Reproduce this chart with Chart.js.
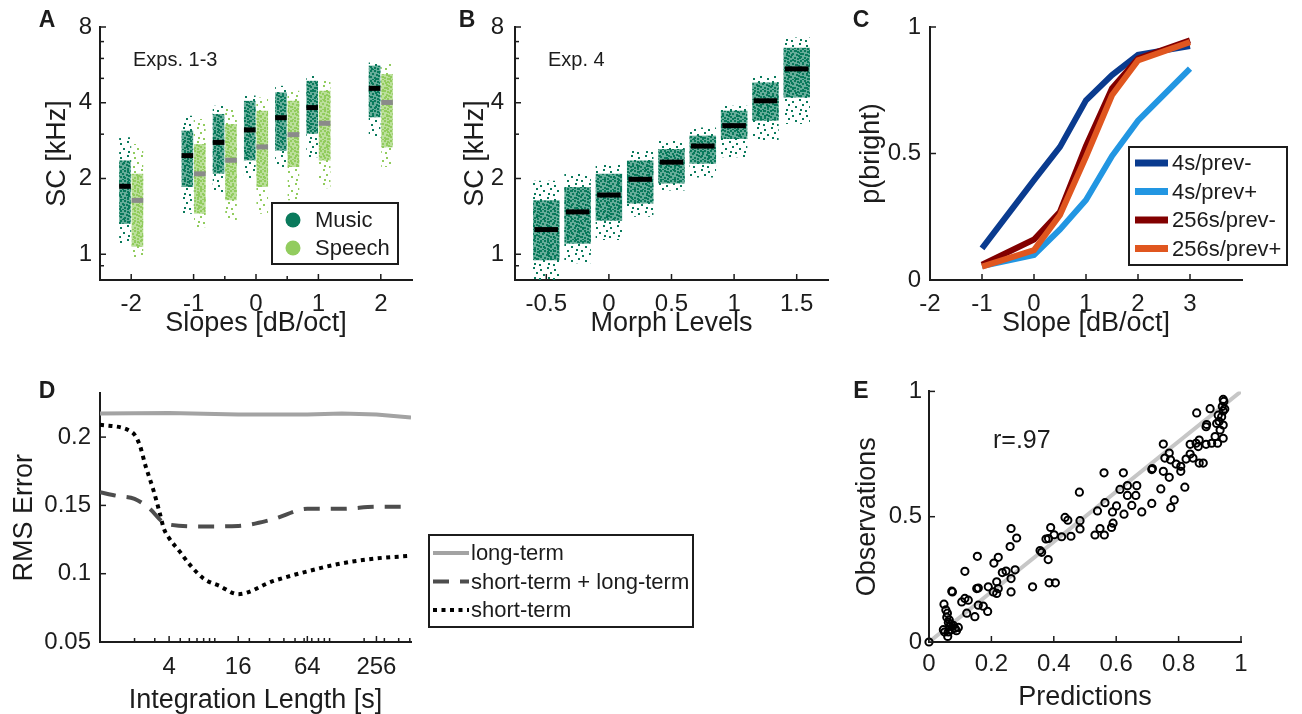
<!DOCTYPE html>
<html><head><meta charset="utf-8"><title>Spectral centroid figure</title>
<script src="https://cdn.jsdelivr.net/npm/chart.js@4.4.1/dist/chart.umd.min.js"></script>
<style>
html,body{margin:0;padding:0;background:#fff;overflow:hidden;}
body{width:1302px;height:714px;position:relative;}
canvas{position:absolute;display:block;}
</style></head><body>
<canvas id="cA" width="420" height="344" style="left:0px;top:0px"></canvas>
<canvas id="cB" width="420" height="344" style="left:420px;top:0px"></canvas>
<canvas id="cC" width="462" height="344" style="left:840px;top:0px"></canvas>
<canvas id="cD" width="720" height="351" style="left:0px;top:370px"></canvas>
<canvas id="cE" width="462" height="348" style="left:840px;top:370px"></canvas>
<script>
// ---------------- DATA ----------------
// Panel A : spectral centroid (kHz) per spectral slope, music vs speech
const seriesA = ['Music', 'Speech'];
const slopesA = [-2, -1, -0.5, 0, 0.5, 1, 2];
const slopeTicksA = [-2, -1, -0.5, 0, 0.5, 1, 2];
const slopeLabelsA = [-2, -1, 0, 1, 2];
const musicMedA = [1.82, 2.41, 2.72, 3.05, 3.41, 3.74, 4.46];
const speechMedA = [1.60, 2.04, 2.31, 2.61, 2.92, 3.24, 3.92];
const musicCoreA = [[1.32, 2.36], [1.85, 3.10], [2.09, 3.61], [2.36, 4.07], [2.58, 4.40], [3.01, 4.89], [3.50, 5.62]];
const musicTailA = [[1.10, 2.92], [1.45, 3.55], [1.75, 3.89], [2.00, 4.27], [2.20, 4.67], [2.43, 5.12], [2.90, 5.78]];
const speechCoreA = [[1.07, 2.09], [1.45, 2.74], [1.64, 3.29], [1.85, 3.72], [2.22, 4.07], [2.36, 4.46], [2.66, 5.20]];
const speechTailA = [[0.976, 2.74], [1.28, 3.45], [1.36, 3.78], [1.45, 4.20], [1.64, 4.46], [1.83, 4.89], [2.22, 5.70]];
const scTicks = [0.9, 1, 2, 3, 4, 5, 6, 7, 8];
const scLabels = [1, 2, 4, 8];

// Panel B : spectral centroid per morph level
const morphLevels = [-0.5, -0.25, 0, 0.25, 0.5, 0.75, 1, 1.25, 1.5];
const morphTicks = [-0.5, 0, 0.5, 1, 1.5];
const medB = [1.225, 1.44, 1.68, 1.94, 2.27, 2.63, 3.17, 3.98, 5.33];
const coreB = [[0.947, 1.64], [1.10, 1.85], [1.36, 2.09], [1.59, 2.36], [1.91, 2.62], [2.29, 2.96], [2.87, 3.72], [3.39, 4.81], [4.20, 6.62]];
const tailB = [[0.79, 1.96], [0.92, 2.09], [1.14, 2.28], [1.41, 2.58], [1.79, 2.83], [2.02, 3.19], [2.43, 3.89], [2.83, 5.12], [3.29, 7.26]];

// Panel C : p(bright) vs slope
const seriesC = ['4s/prev-', '4s/prev+', '256s/prev-', '256s/prev+'];
const slopesC = [-1, 0, 0.5, 1, 1.5, 2, 3];
const p4Minus = [0.125, 0.395, 0.526, 0.71, 0.81, 0.89, 0.925];
const p4Plus = [0.055, 0.099, 0.20, 0.316, 0.49, 0.63, 0.835];
const p256Minus = [0.06, 0.16, 0.27, 0.53, 0.757, 0.875, 0.947];
const p256Plus = [0.053, 0.118, 0.257, 0.487, 0.73, 0.868, 0.94];
const slopeTicksC = [-2, -1, 0, 1, 2, 3];
const pTicks = [0, 0.5, 1];

// Panel D : RMS error vs integration length
const seriesD = ['long-term', 'short-term + long-term', 'short-term'];
const lenLong = [1, 4, 16, 64, 128, 256, 512];
const rmsLong = [0.2173, 0.2177, 0.2166, 0.2166, 0.2172, 0.2166, 0.2144];
const lenBoth = [1, 1.4, 2, 2.7, 3.5, 4, 8, 16, 32, 64, 128, 256, 512];
const rmsBoth = [0.1596, 0.157, 0.1548, 0.1477, 0.138, 0.136, 0.1346, 0.135, 0.1398, 0.1475, 0.1475, 0.149, 0.149];
const lenShort = [1, 1.9, 2.2, 2.5, 2.9, 3.3, 3.6, 4, 4.9, 6, 8, 11, 16, 32, 64, 128, 256, 512];
const rmsShort = [0.209, 0.2036, 0.195, 0.1786, 0.162, 0.145, 0.133, 0.126, 0.1167, 0.107, 0.0964, 0.091, 0.085, 0.0945, 0.1017, 0.1076, 0.1112, 0.1131];
const lenTicks = [2, 3, 4, 5, 6, 7, 8, 9, 10, 16, 20, 30, 40, 50, 60, 64, 70, 80, 90, 100, 200, 256, 300, 400, 500];
const lenLabels = [4, 16, 64, 256];
const rmsTicks = [0.05, 0.1, 0.15, 0.2];

// Panel E : observations vs predictions
const predE = [0, 0.048, 0.054, 0.057, 0.062, 0.067, 0.046, 0.083, 0.094, 0.06, 0.073, 0.059, 0.065, 0.07, 0.05, 0.078, 0.088, 0.062,
  0.121, 0.147, 0.105, 0.115, 0.126, 0.073, 0.075, 0.158, 0.174, 0.188, 0.153, 0.158, 0.19, 0.217, 0.222, 0.206, 0.217, 0.263,
  0.263, 0.247, 0.276, 0.235, 0.208, 0.222, 0.155, 0.115, 0.26, 0.281, 0.263, 0.332, 0.356, 0.361, 0.382, 0.385, 0.405, 0.375,
  0.383, 0.39, 0.401, 0.425, 0.436, 0.445, 0.455, 0.482, 0.484, 0.484, 0.532, 0.548, 0.562, 0.54, 0.564, 0.561, 0.59, 0.585,
  0.588, 0.601, 0.612, 0.623, 0.625, 0.636, 0.636, 0.663, 0.666, 0.65, 0.682, 0.714, 0.716, 0.714, 0.743, 0.751, 0.77, 0.775,
  0.786, 0.807, 0.82, 0.751, 0.77, 0.756, 0.774, 0.792, 0.807, 0.824, 0.837, 0.846, 0.866, 0.879, 0.837, 0.856, 0.863, 0.866,
  0.888, 0.906, 0.925, 0.917, 0.943, 0.933, 0.943, 0.922, 0.89, 0.888, 0.938, 0.927, 0.943, 0.858, 0.901, 0.943, 0.945, 0.93,
  0.94, 0.948];
const obsE = [0, 0.151, 0.128, 0.099, 0.078, 0.062, 0.049, 0.055, 0.058, 0.022, 0.049, 0.115, 0.088, 0.07, 0.04, 0.066, 0.045, 0.04,
  0.115, 0.101, 0.16, 0.174, 0.167, 0.203, 0.2, 0.147, 0.143, 0.122, 0.213, 0.215, 0.22, 0.24, 0.213, 0.2, 0.194, 0.2,
  0.253, 0.283, 0.288, 0.277, 0.315, 0.338, 0.342, 0.282, 0.381, 0.415, 0.453, 0.22, 0.365, 0.358, 0.329, 0.236, 0.236, 0.411,
  0.413, 0.457, 0.428, 0.42, 0.497, 0.486, 0.422, 0.598, 0.484, 0.451, 0.427, 0.453, 0.427, 0.523, 0.556, 0.675, 0.474, 0.457,
  0.519, 0.543, 0.609, 0.675, 0.51, 0.624, 0.585, 0.585, 0.624, 0.545, 0.519, 0.688, 0.692, 0.553, 0.611, 0.681, 0.657, 0.536,
  0.567, 0.681, 0.618, 0.79, 0.754, 0.734, 0.727, 0.71, 0.701, 0.73, 0.75, 0.734, 0.714, 0.714, 0.789, 0.793, 0.78, 0.806,
  0.789, 0.793, 0.793, 0.82, 0.813, 0.846, 0.866, 0.872, 0.868, 0.859, 0.899, 0.905, 0.922, 0.914, 0.931, 0.968, 0.96, 0.88,
  0.94, 0.93];
const identityE = [0, 1];
const corrLabelE = 'r=.97';
const unitTicks = [0, 0.2, 0.4, 0.6, 0.8, 1];
const obsTicks = [0, 0.5, 1];

// ---------------- STYLE ----------------
const FONT = "'Liberation Sans', Arial, Helvetica, sans-serif";
const INK = '#1c1c1c';
const musicColor = '#0a7a5c';
const speechColor = '#92cc5e';
Chart.defaults.font.family = FONT;
Chart.defaults.color = INK;
Chart.defaults.animation = false;
Chart.defaults.responsive = false;
Chart.defaults.devicePixelRatio = 1;
Chart.defaults.events = [];
Chart.defaults.plugins.legend.display = false;
Chart.defaults.plugins.tooltip.enabled = false;

function dotPattern(color, bgAlpha, size, pts) {
  const c = document.createElement('canvas');
  c.width = size; c.height = size;
  const g = c.getContext('2d');
  g.fillStyle = color;
  if (bgAlpha > 0) { g.globalAlpha = bgAlpha; g.fillRect(0, 0, size, size); g.globalAlpha = 1; }
  pts.forEach(p => g.fillRect(p[0], p[1], 2, 2));
  return g.createPattern(c, 'repeat');
}
const DENSE = [[0, 0], [4, 0], [7, 1], [2, 3], [6, 4], [8, 5], [0, 6], [4, 7], [7, 8], [2, 9], [9, 2]];
const SPARSE = [[1, 1], [8, 3], [4, 6], [11, 8], [2, 11], [7, 12]];
const dense = c => dotPattern(c, 0.62, 10, DENSE);
const sparse = c => dotPattern(c, 0, 14, SPARSE);

function mkScale(o) {
  return {
    type: o.type, position: o.pos, min: o.min, max: o.max, offset: false, bounds: 'data',
    stacked: o.stacked,
    grid: {display: false, drawTicks: false},
    border: {display: true, color: INK, width: 2},
    ticks: {font: {size: o.tickSize || 24}, color: INK, padding: o.pad, maxRotation: 0, minRotation: 0, autoSkip: false,
      callback: v => (o.labels.includes(v) ? String(v) : '')},
    title: {display: true, text: o.title, font: {size: 27}, color: INK, padding: {top: 4, bottom: 4}},
    afterBuildTicks: sc => { sc.ticks = o.ticks.map(v => ({value: v})); },
    afterFit: sc => { if (o.pos === 'left') sc.width = o.size; else sc.height = o.size; }
  };
}
function floatSet(label, xs, ranges, color, stack, order, barPct, catPct, extra) {
  return Object.assign({
    type: 'bar', label, data: xs.map((x, i) => ({x, y: ranges[i]})), backgroundColor: color,
    stack, order, barPercentage: barPct, categoryPercentage: catPct, borderWidth: 0, grouped: true
  }, extra || {});
}

// ---------------- PLUGINS ----------------
const inTicks = {
  id: 'inTicks',
  afterDraw(chart) {
    const ctx = chart.ctx, ca = chart.chartArea;
    ctx.save(); ctx.strokeStyle = INK; ctx.lineWidth = 1.5;
    ['x', 'y'].forEach(id => {
      const s = chart.scales[id]; if (!s) return;
      s.ticks.forEach(t => {
        const p = s.getPixelForValue(t.value);
        const len = t.label === '' ? 4 : 6;
        ctx.beginPath();
        if (id === 'x') { ctx.moveTo(p, ca.bottom); ctx.lineTo(p, ca.bottom - len); }
        else { ctx.moveTo(ca.left, p); ctx.lineTo(ca.left + len, p); }
        ctx.stroke();
      });
    });
    ctx.restore();
  }
};
const boxLegend = {
  id: 'boxLegend',
  afterDraw(chart, args, o) {
    if (!o || !o.box) return;
    const ctx = chart.ctx, b = o.box;
    let items = o.items;
    if (!items) items = chart.data.datasets.filter(d => d.label && !d.noLegend).map(d => ({
      text: d.label, color: d.borderColor, width: d.legendWidth || d.borderWidth, dash: d.borderDash}));
    ctx.save();
    ctx.fillStyle = '#fff'; ctx.fillRect(b.x, b.y, b.w, b.h);
    ctx.strokeStyle = INK; ctx.lineWidth = 2; ctx.strokeRect(b.x, b.y, b.w, b.h);
    ctx.font = o.size + 'px ' + FONT; ctx.textBaseline = 'middle'; ctx.textAlign = 'left';
    items.forEach((it, i) => {
      const y = b.y + o.first + i * o.step;
      if (it.dot) {
        ctx.beginPath(); ctx.fillStyle = it.color;
        ctx.arc(b.x + o.mx, y, o.r, 0, Math.PI * 2); ctx.fill();
      } else {
        ctx.beginPath(); ctx.setLineDash(it.dash || []); ctx.lineWidth = it.width; ctx.strokeStyle = it.color;
        ctx.moveTo(b.x + o.sx, y); ctx.lineTo(b.x + o.sx + o.sw, y); ctx.stroke(); ctx.setLineDash([]);
      }
      ctx.fillStyle = INK; ctx.fillText(it.text, b.x + o.tx, y + 1);
    });
    ctx.restore();
  }
};
const texts = {
  id: 'texts',
  afterDraw(chart, args, o) {
    if (!o || !o.items) return;
    const ctx = chart.ctx;
    ctx.save(); ctx.fillStyle = INK; ctx.textBaseline = 'middle';
    o.items.forEach(it => {
      ctx.font = (it.bold ? 'bold ' : '') + it.size + 'px ' + FONT;
      ctx.textAlign = it.align || 'left';
      ctx.fillText(it.text, it.x, it.y);
    });
    ctx.restore();
  }
};
Chart.register(inTicks, boxLegend, texts);

// ---------------- PANEL A ----------------
new Chart(document.getElementById('cA'), {
  type: 'bar',
  data: {datasets: [
    floatSet(seriesA[0] + ' median', slopesA, musicMedA.map(m => [m, m]), '#000000', 'm', 0, 0.93, 0.8, {minBarLength: 5}),
    floatSet(seriesA[1] + ' median', slopesA, speechMedA.map(m => [m, m]), '#8a8a8a', 's', 0, 0.93, 0.8, {minBarLength: 5}),
    floatSet(seriesA[0], slopesA, musicCoreA, dense(musicColor), 'm', 1, 0.93, 0.8),
    floatSet(seriesA[1], slopesA, speechCoreA, dense(speechColor), 's', 1, 0.93, 0.8),
    floatSet(seriesA[0] + ' spread', slopesA, musicTailA, sparse(musicColor), 'm', 2, 0.93, 0.8),
    floatSet(seriesA[1] + ' spread', slopesA, speechTailA, sparse(speechColor), 's', 2, 0.93, 0.8)
  ]},
  options: {
    layout: {padding: {left: 37, top: 27, right: 8, bottom: 0}, autoPadding: false},
    scales: {
      x: mkScale({type: 'linear', pos: 'bottom', min: -2.5, max: 2.5, ticks: slopeTicksA, labels: slopeLabelsA, title: 'Slopes [dB/oct]', pad: 10, size: 64}),
      y: mkScale({type: 'logarithmic', pos: 'left', min: 0.79, max: 8, ticks: scTicks, labels: scLabels, title: 'SC [kHz]', pad: 8, size: 63, stacked: false})
    },
    plugins: {
      boxLegend: {box: {x: 272, y: 203, w: 126, h: 61}, size: 22, first: 17, step: 28, mx: 21, r: 7.5, tx: 43,
        items: [{dot: true, color: musicColor, text: seriesA[0]}, {dot: true, color: speechColor, text: seriesA[1]}]},
      texts: {items: [{text: 'A', x: 47, y: 21, size: 23, bold: true, align: 'center'},
                      {text: 'Exps. 1-3', x: 133, y: 60, size: 20}]}
    }
  }
});

// ---------------- PANEL B ----------------
new Chart(document.getElementById('cB'), {
  type: 'bar',
  data: {datasets: [
    floatSet('Median', morphLevels, medB.map(m => [m, m]), '#000000', 'm', 0, 0.82, 0.92, {minBarLength: 5}),
    floatSet('Music', morphLevels, coreB, dense(musicColor), 'm', 1, 0.92, 0.92),
    floatSet('Music spread', morphLevels, tailB, sparse(musicColor), 'm', 2, 0.92, 0.92)
  ]},
  options: {
    layout: {padding: {left: 35, top: 27, right: 12, bottom: 0}, autoPadding: false},
    scales: {
      x: mkScale({type: 'linear', pos: 'bottom', min: -0.75, max: 1.75, ticks: morphTicks, labels: morphTicks, title: 'Morph Levels', pad: 10, size: 64}),
      y: mkScale({type: 'logarithmic', pos: 'left', min: 0.79, max: 8, ticks: scTicks, labels: scLabels, title: 'SC [kHz]', pad: 11, size: 60, stacked: false})
    },
    plugins: {
      texts: {items: [{text: 'B', x: 47, y: 21, size: 23, bold: true, align: 'center'},
                      {text: 'Exp. 4', x: 128, y: 60, size: 20}]}
    }
  }
});

// ---------------- PANEL C ----------------
const colorsC = ['#0a3b8f', '#2296e2', '#820000', '#e0561f'];
const valuesC = [p4Minus, p4Plus, p256Minus, p256Plus];
new Chart(document.getElementById('cC'), {
  type: 'line',
  data: {datasets: seriesC.map((name, k) => ({
    label: name, data: slopesC.map((x, i) => ({x, y: valuesC[k][i]})),
    borderColor: colorsC[k], borderWidth: 6, legendWidth: 7, pointRadius: 0, tension: 0, order: 4 - k, fill: false
  }))},
  options: {
    layout: {padding: {left: 11, top: 27, right: 60, bottom: 0}, autoPadding: false},
    scales: {
      x: mkScale({type: 'linear', pos: 'bottom', min: -2, max: 4, ticks: slopeTicksC, labels: slopeTicksC, title: 'Slope [dB/oct]', pad: 10, size: 64}),
      y: mkScale({type: 'linear', pos: 'left', min: 0, max: 1, ticks: pTicks, labels: pTicks, title: 'p(bright)', pad: 9, size: 79})
    },
    plugins: {
      boxLegend: {box: {x: 289, y: 147, w: 158, h: 118}, size: 22, first: 16, step: 28.5, sx: 6, sw: 33, tx: 43},
      texts: {items: [{text: 'C', x: 21, y: 21, size: 23, bold: true, align: 'center'}]}
    }
  }
});

// ---------------- PANEL D ----------------
new Chart(document.getElementById('cD'), {
  type: 'line',
  data: {datasets: [
    {label: seriesD[0], data: lenLong.map((x, i) => ({x, y: rmsLong[i]})), borderColor: '#a3a3a3', borderWidth: 4, pointRadius: 0, tension: 0},
    {label: seriesD[1], data: lenBoth.map((x, i) => ({x, y: rmsBoth[i]})), borderColor: '#4d4d4d', borderWidth: 4, borderDash: [16, 11], pointRadius: 0, cubicInterpolationMode: 'monotone'},
    {label: seriesD[2], data: lenShort.map((x, i) => ({x, y: rmsShort[i]})), borderColor: '#000000', borderWidth: 4, borderDash: [4, 4.5], pointRadius: 0, cubicInterpolationMode: 'monotone'}
  ]},
  options: {
    layout: {padding: {left: 4, top: 19, right: 309, bottom: 0}, autoPadding: false},
    scales: {
      x: mkScale({type: 'logarithmic', pos: 'bottom', min: 1, max: 512, ticks: lenTicks, labels: lenLabels, title: 'Integration Length [s]', pad: 11, size: 79}),
      y: mkScale({type: 'linear', pos: 'left', min: 0.05, max: 0.232, ticks: rmsTicks, labels: rmsTicks, title: 'RMS Error', pad: 9, size: 96})
    },
    plugins: {
      boxLegend: {box: {x: 429, y: 165, w: 264, h: 92}, size: 22, first: 18, step: 28.5, sx: 4, sw: 36, tx: 42},
      texts: {items: [{text: 'D', x: 47, y: 22, size: 23, bold: true, align: 'center'}]}
    }
  }
});

// ---------------- PANEL E ----------------
new Chart(document.getElementById('cE'), {
  type: 'scatter',
  data: {datasets: [
    {label: 'Observations', data: predE.map((x, i) => ({x, y: obsE[i]})), pointStyle: 'circle', pointRadius: 3.6,
     pointBorderWidth: 2, borderColor: '#000000', backgroundColor: 'rgba(255,255,255,0)', showLine: false, clip: false, order: 0},
    {label: 'identity', data: identityE.map(v => ({x: v, y: v})), borderColor: '#c6c6c6', borderWidth: 4,
     pointRadius: 0, showLine: true, order: 1}
  ]},
  options: {
    layout: {padding: {left: 7, top: 19, right: 61, bottom: 0}, autoPadding: false},
    scales: {
      x: mkScale({type: 'linear', pos: 'bottom', min: 0, max: 1, ticks: unitTicks, labels: unitTicks, title: 'Predictions', pad: 8, size: 76}),
      y: mkScale({type: 'linear', pos: 'left', min: 0, max: 1, ticks: obsTicks, labels: obsTicks, title: 'Observations', pad: 7, size: 82})
    },
    plugins: {
      texts: {items: [{text: 'E', x: 21, y: 22, size: 23, bold: true, align: 'center'},
                      {text: corrLabelE, x: 153, y: 71, size: 25}]}
    }
  }
});
</script></body></html>
